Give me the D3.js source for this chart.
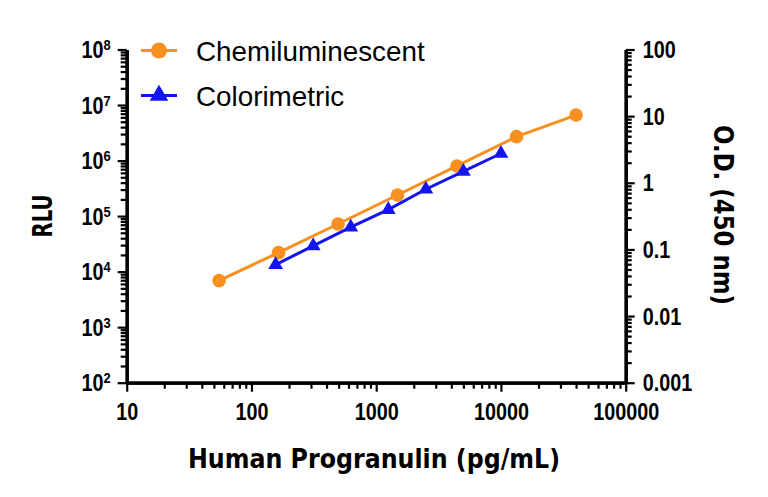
<!DOCTYPE html>
<html><head><meta charset="utf-8">
<script src="https://cdn.jsdelivr.net/npm/d3@7"></script>
<style>body{margin:0;background:#fff}svg{display:block}</style>
</head><body>
<svg id="c" width="768" height="497"></svg>
<script>
// Data
const chemiConc = [55, 165, 494, 1481, 4444, 13333, 40000];
const chemiRLU  = [6900, 22000, 72000, 240000, 800000, 2700000, 6600000];
const colorConc = [156.25, 312.5, 625, 1250, 2500, 5000, 10000];
const colorOD   = [0.059, 0.113, 0.216, 0.395, 0.80, 1.48, 2.75];
const xTicks = [10, 100, 1000, 10000, 100000];
const xTickLabels = ["10", "100", "1000", "10000", "100000"];
const yLeftExp = [2, 3, 4, 5, 6, 7, 8];
const yRightTicks = [0.001, 0.01, 0.1, 1, 10, 100];
const yRightLabels = ["0.001", "0.01", "0.1", "1", "10", "100"];
const seriesNames = ["Chemiluminescent", "Colorimetric"];

const ORANGE = "#F7901E", BLUE = "#1414EE";
const svg = d3.select("#c");
const L = 126.7, R = 625.7, T = 49.5, B = 382.7;
const x = d3.scaleLog().domain([10, 1e5]).range([L, R]);
const yL = d3.scaleLog().domain([1e2, 1e8]).range([B, T]);
const yR = d3.scaleLog().domain([0.001, 100]).range([B, T]);
const tickFont = "'Liberation Sans', Arial, sans-serif";
const SX = 0.86;

function minors(lo, hi) {
  const out = [];
  for (let e = lo; e < hi; e++) for (let m = 2; m <= 9; m++) out.push(m * Math.pow(10, e));
  return out;
}
function styleAxis(g) {
  g.select(".domain").attr("stroke", "#000").attr("stroke-width", 3.2);
  g.selectAll(".tick line").attr("stroke", "#000").attr("stroke-width", 2.2);
}
function label(sel, tx, ty, anchor) {
  return sel.append("g").attr("transform", `translate(${tx},${ty}) scale(${SX},1)`)
    .append("text").attr("text-anchor", anchor).attr("fill", "#000")
    .style("font-family", tickFont).style("font-weight", "bold").style("font-size", "23px");
}

// X axis
const gxMin = svg.append("g").attr("transform", `translate(0,${B})`)
  .call(d3.axisBottom(x).tickValues(minors(1, 5)).tickSize(6).tickFormat("").tickSizeOuter(0));
styleAxis(gxMin);
const gx = svg.append("g").attr("transform", `translate(0,${B})`)
  .call(d3.axisBottom(x).tickValues(xTicks).tickSize(9).tickSizeOuter(0).tickFormat(""));
styleAxis(gx);
gx.selectAll(".tick").each(function(d, i) {
  label(d3.select(this), 0, 37.5, "middle").text(xTickLabels[i]);
});

// Left axis
const gyMin = svg.append("g").attr("transform", `translate(${L},0)`)
  .call(d3.axisLeft(yL).tickValues(minors(2, 8)).tickSize(6).tickFormat("").tickSizeOuter(0));
styleAxis(gyMin);
const gy = svg.append("g").attr("transform", `translate(${L},0)`)
  .call(d3.axisLeft(yL).tickValues(yLeftExp.map(e => Math.pow(10, e))).tickSize(9).tickSizeOuter(0).tickFormat(""));
styleAxis(gy);
gy.selectAll(".tick").each(function(d, i) {
  const t = label(d3.select(this), -16, 8, "end");
  t.append("tspan").text("10");
  t.append("tspan").text(yLeftExp[i]).attr("dy", -8).style("font-size", "15px");
});

// Right axis
const grMin = svg.append("g").attr("transform", `translate(${R},0)`)
  .call(d3.axisRight(yR).tickValues(minors(-3, 2)).tickSize(6).tickFormat("").tickSizeOuter(0));
styleAxis(grMin);
const gr = svg.append("g").attr("transform", `translate(${R},0)`)
  .call(d3.axisRight(yR).tickValues(yRightTicks).tickSize(9).tickSizeOuter(0).tickFormat(""));
styleAxis(gr);
gr.selectAll(".tick").each(function(d, i) {
  label(d3.select(this), 17, 8, "start").text(yRightLabels[i]);
});

// Lines
const lineL = d3.line().x(d => x(d[0])).y(d => yL(d[1]));
const lineR = d3.line().x(d => x(d[0])).y(d => yR(d[1]));
const chemi = chemiConc.map((c, i) => [c, chemiRLU[i]]);
const color = colorConc.map((c, i) => [c, colorOD[i]]);

svg.append("path").datum(chemi).attr("d", lineL).attr("fill", "none")
  .attr("stroke", ORANGE).attr("stroke-width", 3);
svg.selectAll(".cpt").data(chemi).join("circle").attr("class", "cpt")
  .attr("cx", d => x(d[0])).attr("cy", d => yL(d[1])).attr("r", 6.8).attr("fill", ORANGE);

svg.append("path").datum(color).attr("d", lineR).attr("fill", "none")
  .attr("stroke", BLUE).attr("stroke-width", 3);
const tri = d3.symbol().type(d3.symbolTriangle).size(95);
svg.selectAll(".tpt").data(color).join("path").attr("class", "tpt")
  .attr("transform", d => `translate(${x(d[0])},${yR(d[1])})`).attr("d", tri).attr("fill", BLUE);

// Legend
const legY = [50.5, 95.5];
[0, 1].forEach(i => {
  const c = i === 0 ? ORANGE : BLUE;
  svg.append("line").attr("x1", 141).attr("x2", 177).attr("y1", legY[i]).attr("y2", legY[i])
    .attr("stroke", c).attr("stroke-width", 3);
  if (i === 0) svg.append("circle").attr("cx", 159).attr("cy", legY[i]).attr("r", 8).attr("fill", c);
  else svg.append("path").attr("transform", `translate(159,${legY[i]})`)
    .attr("d", d3.symbol().type(d3.symbolTriangle).size(150)).attr("fill", c);
  svg.append("text").attr("x", 196).attr("y", legY[i] + 10).text(seriesNames[i])
    .style("font-family", tickFont).style("font-size", "27.8px").attr("fill", "#000");
});

// Axis titles
const titleFont = "'DejaVu Sans', 'Liberation Sans', Arial, sans-serif";
svg.append("text").attr("x", 374).attr("y", 468).attr("text-anchor", "middle")
  .attr("textLength", 372).attr("lengthAdjust", "spacingAndGlyphs")
  .style("font-family", titleFont).style("font-weight", "bold").style("font-size", "27px")
  .attr("fill", "#000").text("Human Progranulin (pg/mL)");
svg.append("text").attr("transform", "translate(52,216) rotate(-90)").attr("text-anchor", "middle")
  .attr("textLength", 43).attr("lengthAdjust", "spacingAndGlyphs")
  .style("font-family", titleFont).style("font-weight", "bold").style("font-size", "27px")
  .attr("fill", "#000").text("RLU");
svg.append("text").attr("transform", "translate(714,215) rotate(90)").attr("text-anchor", "middle")
  .attr("textLength", 180).attr("lengthAdjust", "spacingAndGlyphs")
  .style("font-family", titleFont).style("font-weight", "bold").style("font-size", "26px")
  .attr("fill", "#000").text("O.D. (450 nm)");
</script>
</body></html>
